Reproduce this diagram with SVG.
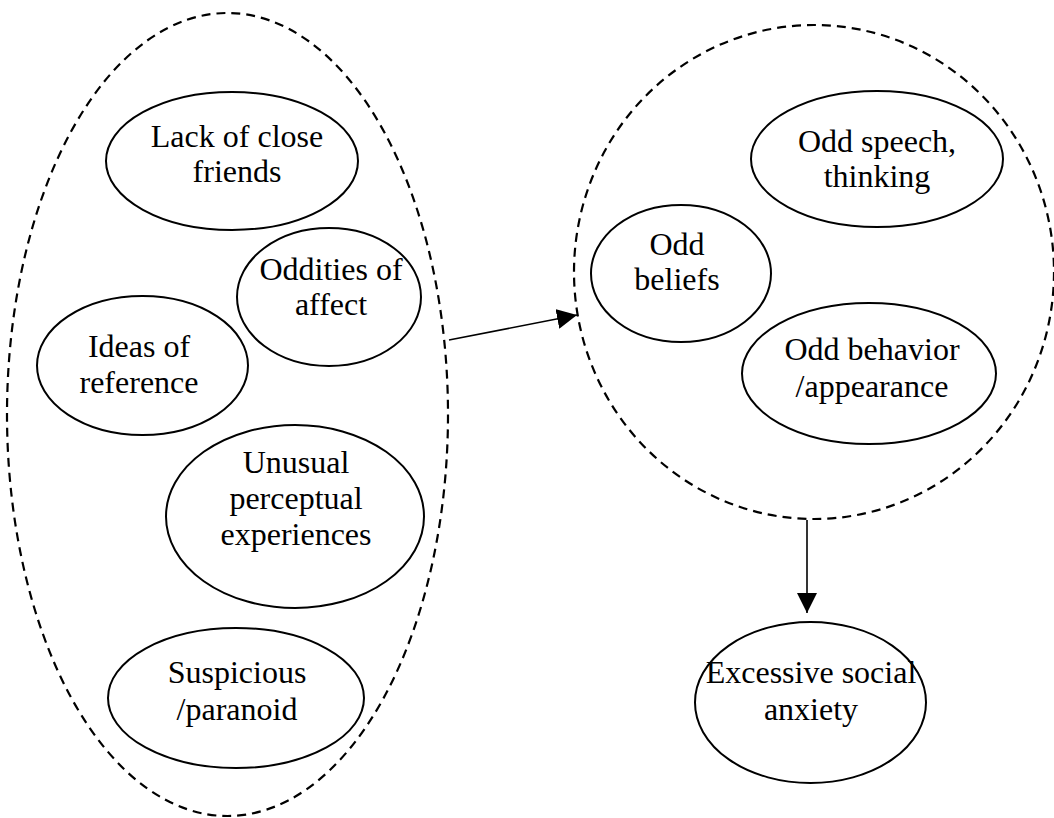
<svg xmlns="http://www.w3.org/2000/svg" width="1054" height="818" viewBox="0 0 1054 818">
<style>
.grp{fill:none;stroke:#000;stroke-width:2.2;stroke-dasharray:9 6}
.node{fill:#fff;stroke:#000;stroke-width:2}
.lbl{font-family:"Liberation Serif","Times New Roman",serif;font-size:32px;fill:#000;text-anchor:middle}
.conn{stroke:#000;stroke-width:1.6;fill:none}
</style>
<defs>
<marker id="ah" viewBox="0 0 20 20" refX="20" refY="10" markerWidth="20" markerHeight="20" markerUnits="userSpaceOnUse" orient="auto">
<path d="M0,0 L20,10 L0,20 Z" fill="#000"/>
</marker>
</defs>
<rect width="1054" height="818" fill="#fff"/>
<g id="group-left"><ellipse class="grp" cx="227.5" cy="414.5" rx="220.5" ry="401.5"/></g>
<g id="group-right"><ellipse class="grp" cx="814" cy="272" rx="240" ry="247"/></g>
<g id="connectors">
<line class="conn" x1="449" y1="340" x2="577" y2="315" marker-end="url(#ah)"/>
<line class="conn" x1="807" y1="520" x2="807" y2="613" marker-end="url(#ah)"/>
</g>
<g id="n-lack"><ellipse class="node" cx="232" cy="161" rx="126" ry="69"/><text class="lbl" x="237" y="147">Lack of close</text><text class="lbl" x="237" y="182">friends</text></g>
<g id="n-oddities"><ellipse class="node" cx="329" cy="297" rx="92" ry="69"/><text class="lbl" x="331" y="280">Oddities of</text><text class="lbl" x="331" y="315">affect</text></g>
<g id="n-ideas"><ellipse class="node" cx="142.5" cy="365.5" rx="105.5" ry="69.5"/><text class="lbl" x="139" y="357">Ideas of</text><text class="lbl" x="139" y="393">reference</text></g>
<g id="n-unusual"><ellipse class="node" cx="295" cy="516.5" rx="129" ry="91.5"/><text class="lbl" x="296" y="473">Unusual</text><text class="lbl" x="296" y="509">perceptual</text><text class="lbl" x="296" y="545">experiences</text></g>
<g id="n-suspicious"><ellipse class="node" cx="236" cy="698" rx="128" ry="70"/><text class="lbl" x="237" y="683">Suspicious</text><text class="lbl" x="237" y="720">/paranoid</text></g>
<g id="n-speech"><ellipse class="node" cx="877" cy="159" rx="126" ry="68"/><text class="lbl" x="877" y="152">Odd speech,</text><text class="lbl" x="877" y="187">thinking</text></g>
<g id="n-beliefs"><ellipse class="node" cx="681" cy="273.5" rx="90" ry="68.5"/><text class="lbl" x="677" y="255">Odd</text><text class="lbl" x="677" y="290">beliefs</text></g>
<g id="n-behavior"><ellipse class="node" cx="869" cy="373.5" rx="127" ry="70.5"/><text class="lbl" x="872" y="360">Odd behavior</text><text class="lbl" x="872" y="397">/appearance</text></g>
<g id="n-anxiety"><ellipse class="node" cx="810.5" cy="702.5" rx="115.5" ry="80.5"/><text class="lbl" x="811" y="683">Excessive social</text><text class="lbl" x="811" y="720">anxiety</text></g>
</svg>
